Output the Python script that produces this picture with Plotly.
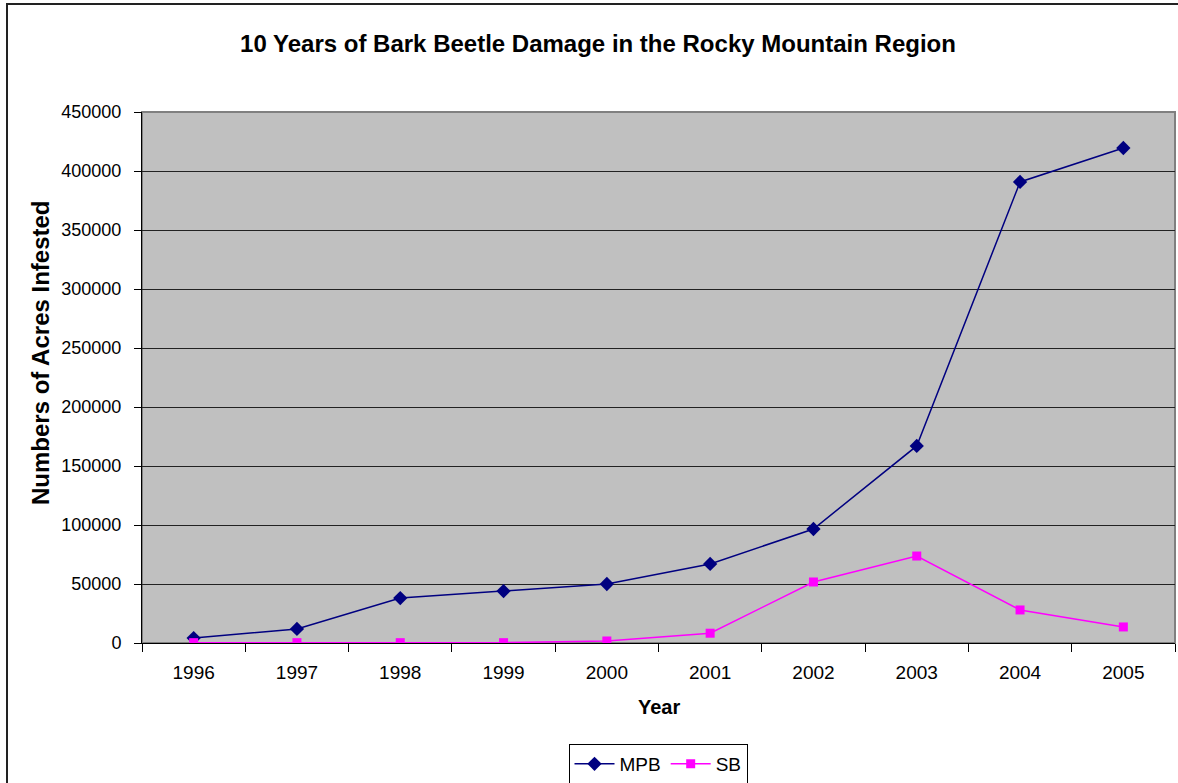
import plotly.graph_objects as go

years = ["1996", "1997", "1998", "1999", "2000", "2001", "2002", "2003", "2004", "2005"]
mpb = [4200, 11900, 38100, 44000, 50000, 67000, 96600, 167000, 390700, 419500]
sb = [300, 300, 300, 300, 1700, 8300, 51700, 73700, 28000, 13600]

FONT = "Liberation Sans, Arial, sans-serif"
W, H = 1178, 783
L, R, T, B = 142, 3, 112, 140
PW, PH = W - L - R, H - T - B

fig = go.Figure()
fig.add_trace(go.Scatter(x=years, y=mpb, name="MPB", mode="lines+markers",
                         line=dict(color="#000080", width=1.5),
                         marker=dict(symbol="diamond", size=11, color="#000080")))
fig.add_trace(go.Scatter(x=years, y=sb, name="SB", mode="lines+markers",
                         line=dict(color="#FF00FF", width=1.5),
                         marker=dict(symbol="square", size=9, color="#FF00FF")))

fig.update_layout(
    width=W, height=H,
    margin=dict(l=L, r=R, t=T, b=B, autoexpand=False),
    paper_bgcolor="white",
    plot_bgcolor="#C0C0C0",
    font=dict(family=FONT, color="black", size=18),
    title=dict(text="<b>10 Years of Bark Beetle Damage in the Rocky Mountain Region</b>",
               x=598 / W, xref="container", xanchor="center", y=1 - 44 / H, yref="container",
               yanchor="middle", font=dict(size=24, family=FONT)),
    showlegend=True,
    legend=dict(orientation="h", x=(658 - L) / PW, xanchor="center",
                y=1 - 744 / H, yref="container", yanchor="top",
                bordercolor="black", borderwidth=1, bgcolor="white",
                font=dict(size=19, family=FONT), itemwidth=40,
                tracegroupgap=0),
    xaxis=dict(type="category", range=[-0.5, 9.5], tickson="boundaries", ticks="outside", ticklen=8,
               tickcolor="black", showline=True, linecolor="black", linewidth=1,
               showgrid=False, tickfont=dict(size=19), ticklabelstandoff=12),
    yaxis=dict(range=[0, 450000], dtick=50000, ticks="outside", ticklen=7,
               tickcolor="black", showline=True, linecolor="black", linewidth=1,
               showgrid=True, gridcolor="#222222", gridwidth=1, zeroline=False,
               tickfont=dict(size=18), tickformat="d", ticklabelstandoff=9),
    annotations=[
        dict(text="<b>Numbers of Acres Infested</b>", xref="paper", yref="paper",
             x=(40 - L) / PW, y=(H - B - 353) / PH, textangle=-90, showarrow=False,
             xanchor="center", yanchor="middle", font=dict(size=24, family=FONT)),
        dict(text="<b>Year</b>", xref="paper", yref="paper",
             x=(659 - L) / PW, y=(H - B - 707) / PH, showarrow=False,
             xanchor="center", yanchor="middle", font=dict(size=20, family=FONT)),
    ],
    shapes=[
        dict(type="rect", xref="paper", yref="paper", x0=0, x1=1, y0=0, y1=1,
             line=dict(color="#808080", width=2), fillcolor="rgba(0,0,0,0)", layer="below"),
        dict(type="rect", xref="paper", yref="paper", x0=(7 - L) / PW, x1=1.02,
             y0=-0.5, y1=1 + (T - 4) / PH,
             line=dict(color="#222222", width=2), fillcolor="rgba(0,0,0,0)", layer="below"),
    ],
)

fig.write_html("out.html")
